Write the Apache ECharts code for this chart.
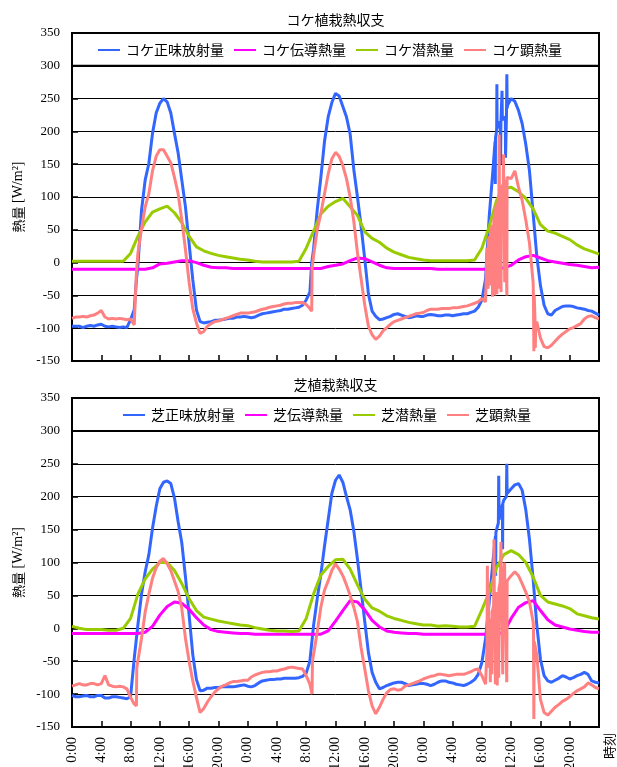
<!DOCTYPE html>
<html><head><meta charset="utf-8">
<script src="https://cdn.jsdelivr.net/npm/echarts@6/dist/echarts.min.js"></script>
<style>html,body{margin:0;padding:0;background:#fff}#c{width:617px;height:767px}</style>
</head><body><div id="c"></div>
<script>
// ---------- time axes ----------
const hoursHourly = Array.from({length: 73}, (_, i) => i);
const hoursHalf = Array.from({length: 145}, (_, i) => i / 2);
const tickLabels = ['0:00','4:00','8:00','12:00','16:00','20:00','0:00','4:00','8:00','12:00','16:00','20:00','0:00','4:00','8:00','12:00','16:00','20:00',''];

// ---------- コケ (moss) ----------
const mossNames = ['コケ正味放射量','コケ伝導熱量','コケ潜熱量','コケ顕熱量'];
const mossNet = [
-97,-97,-97,-99,-97,-96,-97,-95,-94,-97,
-98,-97,-98,-99,-98,-99,-87,-72,-6,80,
126,151,197,228,243,250,245,228,197,167,
126,85,29,-26,-72,-90,-92,-91,-90,-88,
-88,-87,-86,-85,-85,-83,-83,-82,
-83,-84,-83,-80,-78,-77,-76,-75,-74,-73,
-71,-71,-70,-69,-68,-65,-57,-45,20,80,
130,185,222,244,258,254,238,222,196,142,
100,55,5,-48,-74,-82,-87,-86,-84,-82,
-79,-78,-80,-82,-84,-83,-81,-82,
-82,-80,-79,-80,-81,-81,-80,-80,-81,-80,
-79,-78,-78,-76,-74,-68,-57,-25,70,140,
200,215,220,240,250,246,232,212,180,140,
75,10,-35,-65,-78,-80,-73,-70,-67,-66,
-66,-67,-69,-70,-71,-73,-74,-77,-80];
const mossNetSpikeT = [8.75,8.8,32.7,32.75,57.8,57.83,57.86,58.02,58.05,58.08,58.55,58.6,58.7,58.75,58.8,59.2,59.23,59.36,59.41,59.46];
const mossNetSpikeV = [-72,-26,-48,0,185,120,190,205,272,205,150,212,215,262,218,222,160,225,287,235];
const mossCond = [
-10,-10,-10,-10,-10,-10,-10,-10,-10,-10,
-10,-8,-2,-1,1,3,3,0,-4,-7,
-8,-8,-9,-9,-9,-9,-9,-9,-9,-9,
-9,-9,-9,-9,-9,-6,-4,-2,3,7,
6,1,-4,-8,-9,-9,-9,-9,-9,-9,
-10,-10,-10,-10,-10,-10,-10,-10,-10,-8,
-4,4,9,11,7,3,1,-1,-3,-4,
-6,-8,-7];
const mossLat = [
2,2,2,2,2,2,2,2,14,40,
62,77,82,86,76,61,40,24,18,14,
11,9,7,5,4,2,1,1,1,1,
1,2,22,48,74,86,93,98,85,72,
47,37,31,22,16,12,8,6,4,3,
3,3,3,3,3,4,22,55,95,113,
115,108,98,82,58,48,45,40,35,27,
21,17,13];
const mossSens = [
-85,-83,-83,-82,-83,-81,-80,-77,-73,-83,
-86,-85,-86,-85,-86,-87,-86,-95,14,52,
85,105,140,162,172,172,162,152,130,105,
65,20,-30,-70,-92,-108,-105,-97,-93,-90,
-89,-87,-85,-83,-81,-79,-77,-77,
-77,-76,-75,-73,-71,-70,-68,-67,-66,-65,
-63,-62,-62,-61,-61,-61,-64,-70,10,50,
75,105,135,158,168,162,148,128,100,63,
15,-25,-65,-97,-110,-117,-112,-104,-99,-94,
-90,-88,-86,-84,-82,-80,-78,-77,
-76,-73,-71,-71,-71,-70,-70,-70,-69,-69,
-68,-67,-66,-64,-62,-60,-55,-60,40,60,
90,110,125,130,128,140,115,95,65,30,
-30,-90,-115,-128,-130,-126,-120,-114,-109,-105,
-101,-99,-96,-93,-86,-82,-81,-84,-86];
const mossSensSpikeT = [8.75,8.8,32.75,32.8,56.65,56.7,56.85,56.88,57.15,57.18,57.42,57.45,57.48,57.6,57.63,57.74,57.77,57.8,58.02,58.05,58.08,58.2,58.23,58.33,58.36,58.39,58.62,58.65,58.92,58.95,58.98,59.12,59.15,59.38,59.41,59.44,63.05,63.1,63.15,63.25,63.3,63.35];
const mossSensSpikeV = [-98,-16,-74,-8,-62,23,-40,35,-35,50,55,-52,58,-45,66,70,-50,75,85,-48,90,-40,98,105,195,108,-45,112,120,165,122,-30,126,128,-50,130,-60,-135,-50,-85,-130,-95];

// ---------- 芝 (turf) ----------
const shibaNames = ['芝正味放射量','芝伝導熱量','芝潜熱量','芝顕熱量'];
const shibaNet = [
-102,-104,-104,-103,-102,-104,-104,-102,-102,-106,
-106,-104,-104,-105,-106,-107,-104,-46,5,52,
86,112,152,185,212,222,224,220,198,162,
130,78,20,-40,-78,-95,-94,-91,-91,-90,
-90,-89,-89,-89,-89,-88,-87,-86,
-88,-89,-87,-83,-80,-79,-78,-78,-77,-77,
-76,-76,-76,-76,-75,-73,-68,-50,4,45,
82,125,165,205,225,233,222,200,180,148,
105,58,10,-37,-67,-82,-92,-90,-87,-85,
-83,-82,-82,-84,-87,-86,-85,-84,
-84,-85,-87,-85,-82,-80,-80,-82,-83,-85,
-86,-87,-85,-82,-78,-70,-52,-16,40,100,
150,175,195,205,212,218,220,210,180,135,
75,5,-47,-72,-80,-82,-79,-76,-72,-74,
-77,-75,-72,-70,-67,-70,-80,-82,-83];
const shibaNetSpikeT = [57.85,57.88,57.91,58.25,58.3,58.35,58.8,58.83,58.86,59.35,59.4,59.45];
const shibaNetSpikeV = [140,80,145,160,232,165,188,120,190,200,250,205];
const shibaCond = [
-8,-8,-8,-8,-8,-8,-8,-8,-8,-8,
-6,3,20,33,40,38,29,16,5,-2,
-5,-6,-7,-8,-8,-9,-9,-9,-9,-9,
-9,-9,-9,-9,-9,-4,11,27,42,40,
28,12,2,-4,-6,-7,-8,-8,-9,-9,
-9,-9,-9,-9,-9,-9,-9,-9,-9,-6,
15,32,39,42,27,13,5,2,-1,-3,
-5,-6,-6];
const shibaLat = [
3,0,-2,-2,-2,-3,-3,0,15,52,
75,90,100,100,88,68,45,27,17,14,
11,9,7,5,4,1,-1,-3,-4,-4,
-5,-4,15,52,81,94,104,105,90,66,
44,31,26,19,15,12,9,7,5,5,
3,4,3,2,2,3,28,55,92,112,
118,112,100,78,50,40,37,34,30,22,
19,16,14];
const shibaSens = [
-88,-86,-84,-86,-86,-84,-84,-86,-84,-72,
-86,-88,-89,-88,-89,-92,-105,-115,-60,-15,
25,52,76,92,102,106,98,88,72,56,
30,-15,-50,-80,-105,-128,-122,-112,-104,-97,
-92,-88,-86,-83,-81,-81,-80,-79,
-79,-74,-71,-69,-67,-66,-66,-65,-65,-63,
-62,-60,-59,-60,-61,-62,-72,-85,-47,-6,
32,58,72,88,98,90,80,66,50,32,
10,-30,-62,-95,-118,-130,-120,-108,-98,-93,
-92,-94,-93,-88,-86,-84,-82,-80,
-77,-75,-73,-72,-70,-70,-71,-72,-71,-70,
-70,-70,-68,-66,-63,-62,-72,-85,10,30,
50,70,65,75,80,86,80,68,55,40,
10,-40,-108,-128,-132,-126,-120,-116,-111,-108,
-104,-99,-95,-92,-89,-83,-86,-90,-92];
const shibaSensSpikeT = [8.8,8.85,32.8,32.85,56.6,56.7,56.75,56.8,56.9,56.93,57.1,57.15,57.2,57.35,57.38,57.6,57.65,57.7,57.85,57.88,58.05,58.1,58.15,58.3,58.33,58.55,58.6,58.65,58.85,58.88,59.1,59.13,59.35,59.4,59.45,63.05,63.1,63.15];
const shibaSensSpikeV = [-118,-60,-100,-50,-88,-30,95,-20,60,-60,5,-82,15,-70,25,35,135,38,-85,45,55,-87,55,-75,60,70,131,72,-70,66,100,65,68,-82,72,0,-138,-20];

const titles = ['コケ植栽熱収支','芝植栽熱収支'];
const colors = ['#3366FF','#FF00FF','#99CC00','#FF8080'];

// ---------- build ----------
function merge(times, vals, st, sv) {
  const pts = times.map((t, i) => [t, vals[i]]);
  if (st) st.forEach((t, i) => pts.push([t, sv[i]]));
  pts.sort((a, b) => a[0] - b[0]);
  return pts;
}
const jp = 'Noto Sans CJK JP';
const serif = 'Liberation Serif';
const grids = [
  {left: 72, top: 33, width: 527, height: 328},
  {left: 72, top: 398, width: 527, height: 329}
];
function xAxisFor(i, showLabel) {
  return {
    type: 'value', gridIndex: i, min: 0, max: 72, interval: 4,
    axisLine: {show: true, onZero: false, lineStyle: {color: '#000', width: 2}},
    axisTick: {show: true, inside: true, length: 6, lineStyle: {color: '#000', width: 1.5}},
    axisLabel: {show: showLabel, rotate: 90, margin: 10, color: '#000', fontFamily: serif, fontSize: 14.5,
      formatter: v => tickLabels[Math.round(v / 4)] || ''},
    splitLine: {show: false}
  };
}
function yAxisFor(i) {
  return {
    type: 'value', gridIndex: i, min: -150, max: 350, interval: 50,
    axisLine: {show: true, onZero: false, lineStyle: {color: '#000', width: 2}},
    axisTick: {show: true, inside: true, length: 6, lineStyle: {color: '#000', width: 1.5}},
    axisLabel: {color: '#000', fontFamily: serif, fontSize: 13, margin: 12},
    splitLine: {show: true, lineStyle: {color: '#000', width: 1}},
    name: '{a|熱量}{b| [W/m²]}', nameLocation: 'middle', nameGap: 44, nameRotate: 90,
    nameTextStyle: {rich: {a: {fontFamily: jp, fontSize: 13, color: '#000'}, b: {fontFamily: serif, fontSize: 14, color: '#000'}}}
  };
}
function line(name, data, color, gi) {
  return {name, type: 'line', xAxisIndex: gi, yAxisIndex: gi, data, showSymbol: false, symbol: 'none',
    lineStyle: {color, width: 3}, itemStyle: {color}, animation: false, silent: true};
}
const series = [
  line(mossNames[0], merge(hoursHalf, mossNet, mossNetSpikeT, mossNetSpikeV), colors[0], 0),
  line(mossNames[1], merge(hoursHourly, mossCond), colors[1], 0),
  line(mossNames[2], merge(hoursHourly, mossLat), colors[2], 0),
  line(mossNames[3], merge(hoursHalf, mossSens, mossSensSpikeT, mossSensSpikeV), colors[3], 0),
  line(shibaNames[0], merge(hoursHalf, shibaNet, shibaNetSpikeT, shibaNetSpikeV), colors[0], 1),
  line(shibaNames[1], merge(hoursHourly, shibaCond), colors[1], 1),
  line(shibaNames[2], merge(hoursHourly, shibaLat), colors[2], 1),
  line(shibaNames[3], merge(hoursHalf, shibaSens, shibaSensSpikeT, shibaSensSpikeV), colors[3], 1)
];
function legendFor(names, left, top) {
  return {data: names, left, top, orient: 'horizontal', itemGap: 10, itemWidth: 22, itemHeight: 2, icon: 'rect',
    selectedMode: false, padding: 0, z: 10,
    textStyle: {fontFamily: jp, fontSize: 14, color: '#000', padding: [0, 0, 0, 1]}};
}
const chart = echarts.init(document.getElementById('c'), null, {renderer: 'canvas'});
chart.setOption({
  animation: false,
  backgroundColor: '#fff',
  grid: grids.map(g => Object.assign({show: true, borderColor: '#000', borderWidth: 2, backgroundColor: 'transparent',
    containLabel: false, outerBoundsMode: 'none'}, g)),
  xAxis: [xAxisFor(0, false), xAxisFor(1, true)],
  yAxis: [yAxisFor(0), yAxisFor(1)],
  legend: [legendFor(mossNames, 98, 43), legendFor(shibaNames, 123, 408)],
  series
});
const graphics = [];
for (let gi = 0; gi < 2; gi++) {
  const a = chart.convertToPixel({gridIndex: gi}, [0, 350]);
  const b = chart.convertToPixel({gridIndex: gi}, [72, 300]);
  graphics.push({type: 'rect', z: 5, shape: {x: a[0], y: a[1], width: b[0] - a[0], height: b[1] - a[1]},
    style: {fill: '#fff', stroke: '#000', lineWidth: 2}});
  graphics.push({type: 'text', z: 5, x: (a[0] + b[0]) / 2, y: a[1] - 20,
    style: {text: titles[gi], align: 'center', verticalAlign: 'top', fontFamily: jp, fontSize: 14, fill: '#000'}});
}
const br = chart.convertToPixel({gridIndex: 1}, [72, -150]);
graphics.push({type: 'text', z: 5, x: br[0] + 4, y: br[1] + 32, rotation: Math.PI / 2,
  style: {text: '時刻', align: 'left', verticalAlign: 'top', fontFamily: jp, fontSize: 13, fill: '#000'}});
chart.setOption({graphic: graphics});
</script></body></html>
